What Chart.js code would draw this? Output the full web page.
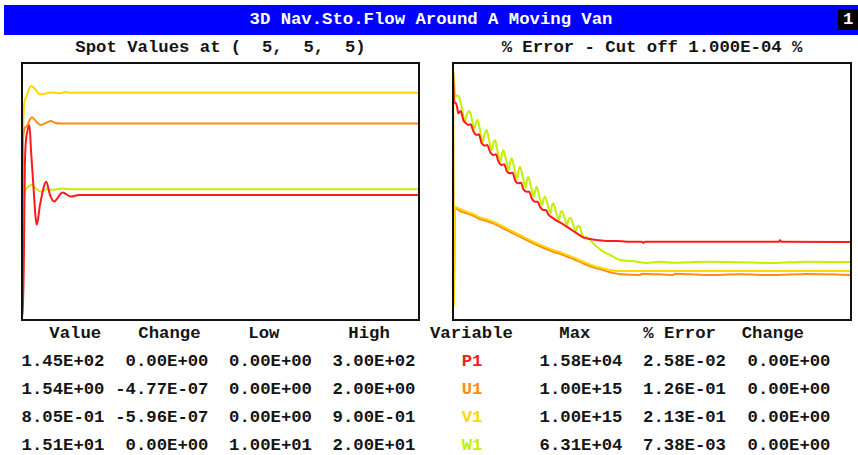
<!DOCTYPE html>
<html lang="en">
<head>
    <meta charset="UTF-8">
    <title>3D Nav.Sto.Flow Around A Moving Van</title>
    <script src="https://cdn.jsdelivr.net/npm/chart.js"></script>
    <style>
        body { margin: 0; width: 858px; height: 455px; background: #fff; overflow: hidden; position: relative; }
        .txt { position: absolute; font-family: "Liberation Mono", "Courier New", monospace; font-weight: bold;
               font-size: 17.3px; line-height: 20px; white-space: pre; color: #151515; }
        .titlebar { position: absolute; left: 4px; top: 5px; width: 854px; height: 30px; background: #0000ff; }
        .pagebox { position: absolute; left: 838px; top: 9px; width: 20px; height: 21px; background: #000; }
        canvas { position: absolute; }
    </style>
</head>
<body>
    <!-- header -->
    <div class="titlebar"></div>
    <div class="pagebox"></div>
    <div class="txt" style="left:0;width:862px;text-align:center;top:10px;color:#fff">3D Nav.Sto.Flow Around A Moving Van</div>
    <div class="txt" style="left:843px;top:10px;color:#fff">1</div>
    <div class="txt" style="left:21px;width:399px;text-align:center;top:38px">Spot Values at (  5,  5,  5)</div>
    <div class="txt" style="left:452px;width:400px;text-align:center;top:38px">% Error - Cut off 1.000E-04 %</div>

    <canvas id="spot-chart" width="399" height="259" style="left:21px;top:62px"></canvas>
    <canvas id="error-chart" width="400" height="259" style="left:452px;top:62px"></canvas>

    <div id="table"></div>

    <script>
        // variables
        const variables = ['P1', 'U1', 'V1', 'W1'];
        const varColors = ['#ff1a1a', '#ff8c14', '#ffd800', '#c4f000'];
        const lowLimits = [0, 0, 0, 10];
        const highLimits = [300, 2, 0.9, 20];

        // spot values [iteration, value]
        const spotP1 = [[0,0],[1,0],[3,187],[5.3,221],[7.5,229],[9,199],[11,163],[14.8,109],[18,133],[24.3,161],[28,145],[32,137],[40.5,148],[49,143],[57,145],[397,145]];
        const spotU1 = [[0,0],[1,1.42],[4.3,1.515],[7.7,1.569],[10,1.591],[14.3,1.556],[18.7,1.529],[24.3,1.547],[28.7,1.561],[32.7,1.547],[40,1.54],[397,1.54]];
        const spotV1 = [[0,0],[1,0.60],[2,0.754],[4.3,0.79],[6.7,0.815],[9.3,0.829],[13,0.818],[18,0.799],[24,0.802],[29,0.806],[36,0.803],[44,0.807],[50,0.805],[397,0.805]];
        const spotW1 = [[0,13.91],[1,14.23],[3,14.95],[6,15.15],[9.5,15.23],[14,15.09],[19.5,14.96],[24.5,15.06],[30,15.04],[40,15.09],[46,15.07],[61,15.06],[397,15.06]];

        // % error [iteration, value]
        const errP1 = [[0,7660],[1.3,735],[3,649],[4.3,449],[5.3,310],[7.7,368],[10.3,189],[13,148],[15.3,131],[17.7,137],[20.3,83.7],[23.7,62.2],[25.7,65.5],[28.7,33.6],[32,28.3],[34.3,29.7],[37,18.1],[40.3,14.2],[43,14.9],[45.3,9.08],[48.7,6.76],[51.3,7.10],[53.7,4.33],[57,3.65],[59.7,3.83],[62,2.22],[65.3,1.74],[68,1.83],[70.3,1.14],[73.7,0.938],[76.3,0.938],[78.7,0.573],[82,0.448],[84.7,0.448],[87,0.309],[90.3,0.241],[93,0.241],[95.3,0.175],[100.3,0.130],[105.3,0.102],[110.3,0.0835],[115.3,0.0653],[120.3,0.0510],[125.3,0.0398],[130.3,0.0319],[137,0.0282],[143.7,0.0262],[153.7,0.0243],[163.7,0.0243],[173.7,0.0231],[188.7,0.0231],[190.3,0.0212],[192,0.0231],[326,0.0231],[327,0.0255],[328.7,0.0231],[398,0.0226]];
        const errU1 = [[0,8700],[1,0.00047],[2,0.273],[7,0.224],[13.7,0.189],[20.3,0.158],[27,0.124],[33.7,0.107],[40.3,0.0899],[50.3,0.0621],[60.3,0.0429],[70.3,0.0296],[80.3,0.0205],[90.3,0.0148],[100.3,0.0110],[110.3,0.00863],[120.3,0.00641],[130.3,0.00465],[140.3,0.00346],[150.3,0.00284],[157,0.00239],[163.7,0.00217],[168.7,0.00206],[187,0.00196],[188.7,0.00217],[220.3,0.00196],[222,0.00217],[253.7,0.00196],[287,0.00206],[320.3,0.00196],[353.7,0.00211],[398,0.00196]];
        const errV1 = [[0,8700],[1,0.00019],[2,0.309],[7,0.260],[13.7,0.213],[20.3,0.179],[27,0.140],[33.7,0.121],[40.3,0.102],[50.3,0.0703],[60.3,0.0485],[70.3,0.0335],[80.3,0.0231],[90.3,0.0168],[100.3,0.0125],[110.3,0.00975],[120.3,0.00724],[130.3,0.00526],[140.3,0.00392],[150.3,0.00321],[157,0.00284],[163.7,0.00264],[398,0.00264]];
        const errW1 = [[0,8700],[2.7,1060],[4.3,1150],[6.3,990],[9,449],[12,167],[13.7,274],[16.3,368],[18.7,214],[21.3,97],[22.7,148],[24.7,189],[27,90],[29.7,36.1],[31.3,62.2],[33.7,90],[36,43],[38.7,20.5],[40,31.2],[42,43],[44.3,20.5],[47.7,9.08],[48.7,14.2],[50.3,20.5],[53,9.78],[56,4.66],[57,7.64],[58.7,11.1],[61.3,5.28],[64.3,2.40],[65.3,4.12],[67,5.97],[69.7,2.85],[72.7,1.26],[73.7,1.97],[75.3,2.85],[78,1.36],[81,0.648],[82,0.938],[83.7,1.36],[86.3,0.648],[89.3,0.349],[90.3,0.506],[92,0.648],[94.7,0.349],[97.7,0.189],[98.7,0.309],[100.3,0.396],[103,0.213],[106,0.115],[107,0.175],[109,0.224],[111.7,0.130],[114.3,0.0795],[115.3,0.115],[117.7,0.137],[120.3,0.0795],[123,0.0510],[124.3,0.0703],[126.3,0.0757],[128.7,0.0429],[131,0.0296],[133,0.0335],[135.3,0.0296],[142,0.0181],[150.3,0.0110],[157,0.00863],[167,0.00596],[173.7,0.00566],[183.7,0.00526],[193.7,0.00476],[207,0.00526],[220.3,0.00489],[253.7,0.00526],[287,0.00501],[320.3,0.00476],[353.7,0.00526],[398,0.00513]];

        // table text
        const tableHeads = ['Value', 'Change', 'Low', 'High', 'Variable', 'Max', '% Error', 'Change'];
        const spotValue = ['1.45E+02', '1.54E+00', '8.05E-01', '1.51E+01'];
        const spotChange = ['0.00E+00', '-4.77E-07', '-5.96E-07', '0.00E+00'];
        const spotLow = ['0.00E+00', '0.00E+00', '0.00E+00', '1.00E+01'];
        const spotHigh = ['3.00E+02', '2.00E+00', '9.00E-01', '2.00E+01'];
        const errMax = ['1.58E+04', '1.00E+15', '1.00E+15', '6.31E+04'];
        const errPct = ['2.58E-02', '1.26E-01', '2.13E-01', '7.38E-03'];
        const errChange = ['0.00E+00', '0.00E+00', '0.00E+00', '0.00E+00'];

        const toXY = arr => arr.map(p => ({ x: p[0], y: p[1] }));

        const framePlugin = {
            id: 'frame',
            afterDraw(chart) {
                const ctx = chart.ctx;
                ctx.save();
                ctx.strokeStyle = '#111';
                ctx.lineWidth = 2;
                ctx.strokeRect(1, 1, chart.width - 2, chart.height - 2);
                ctx.restore();
            }
        };

        const baseOptions = (xMax) => ({
            responsive: false,
            animation: false,
            devicePixelRatio: 1,
            layout: { padding: { left: 1, right: 1, top: 4.4, bottom: 5.8 } },
            plugins: { legend: { display: false }, tooltip: { enabled: false } },
            elements: { point: { radius: 0 }, line: { borderWidth: 2, cubicInterpolationMode: 'monotone' } },
            scales: { x: { type: 'linear', min: 0, max: xMax, display: false } }
        });

        // spot values chart: each variable on its own low/high axis
        const spotSeries = [spotP1, spotU1, spotV1, spotW1];
        const spotOpts = baseOptions(397);
        variables.forEach((v, i) => {
            spotOpts.scales['y' + v] = { type: 'linear', min: lowLimits[i], max: highLimits[i], display: false };
        });
        new Chart(document.getElementById('spot-chart'), {
            type: 'line',
            data: {
                datasets: variables.map((v, i) => ({
                    label: v, data: toXY(spotSeries[i]), yAxisID: 'y' + v,
                    borderColor: varColors[i], fill: false
                }))
            },
            options: spotOpts,
            plugins: [framePlugin]
        });

        // error chart, log scale
        const errSeries = [errP1, errU1, errV1, errW1];
        const errOpts = baseOptions(398);
        errOpts.scales.y = { type: 'logarithmic', min: 1e-4, max: 1e4, display: false };
        const drawOrder = [1, 3, 0, 2];
        new Chart(document.getElementById('error-chart'), {
            type: 'line',
            data: {
                datasets: variables.map((v, i) => ({
                    label: v, data: toXY(errSeries[i]), yAxisID: 'y',
                    borderColor: varColors[i], fill: false, order: drawOrder[i]
                }))
            },
            options: errOpts,
            plugins: [framePlugin]
        });

        // table below the plots
        const table = document.getElementById('table');
        function addText(str, x, yc, align, color) {
            const d = document.createElement('div');
            d.className = 'txt';
            d.textContent = str;
            d.style.top = (yc - 9) + 'px';
            if (align === 'right') d.style.right = (858 - x) + 'px';
            else d.style.left = x + 'px';
            if (color) d.style.color = color;
            table.appendChild(d);
        }
        const headX = [49.3, 138.3, 248.3, 348.3, 430, 559.3, 643.3, 741.7];
        tableHeads.forEach((h, i) => addText(h, headX[i], 332.7, 'left'));
        const rowY = [360.7, 389, 417.3, 445];
        variables.forEach((v, r) => {
            addText(spotValue[r], 104.5, rowY[r], 'right');
            addText(spotChange[r], 208.5, rowY[r], 'right');
            addText(spotLow[r], 312, rowY[r], 'right');
            addText(spotHigh[r], 415.5, rowY[r], 'right');
            addText(v, 461.7, rowY[r], 'left', varColors[r]);
            addText(errMax[r], 622.5, rowY[r], 'right');
            addText(errPct[r], 726, rowY[r], 'right');
            addText(errChange[r], 830.5, rowY[r], 'right');
        });
    </script>
</body>
</html>
